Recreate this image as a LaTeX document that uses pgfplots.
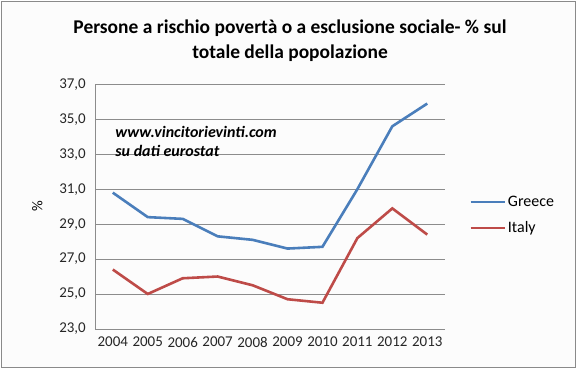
\documentclass[border=1pt]{standalone}
\usepackage{pgfplots}
\pgfplotsset{compat=1.18}
\usepackage{fontspec}
\setmainfont{Carlito}
\definecolor{gr}{HTML}{4A7EBB}
\definecolor{it}{HTML}{BE4B48}
\definecolor{gridc}{HTML}{8C8C8C}
\definecolor{frame}{HTML}{8A8A8A}
\pgfplotstableread{
x Greece Italy
0 30.8 26.4
1 29.4 25.0
2 29.3 25.9
3 28.3 26.0
4 28.1 25.5
5 27.6 24.7
6 27.7 24.5
7 31.0 28.2
8 34.6 29.9
9 35.9 28.4
}\data
\begin{document}
\begin{tikzpicture}
\fill[white!98!gray] (-94pt,-39pt) rectangle (481pt,328pt);
\draw[frame, line width=1pt] (-94pt,-39pt) rectangle (481pt,328pt);
\node[align=center, font=\fontsize{19.5}{25}\selectfont\bfseries] at (195pt,289pt) {Persone a rischio povertà o a esclusione sociale- \% sul\\totale della popolazione};
\begin{axis}[
  at={(0,0)}, anchor=south west,
  scale only axis, width=350pt, height=245pt,
  xmin=-0.5, xmax=9.5, ymin=23, ymax=37,
  xtick=data, xticklabels={2004,2005,2006,2007,2008,2009,2010,2011,2012,2013},
  ytick={23,25,...,37},
  /pgf/number format/.cd, fixed, fixed zerofill, precision=1, use comma, assume math mode=true,
  /pgfplots/.cd,
  axis lines*=left,
  axis line style={gridc, line width=0.8pt},
  major tick length=0pt,
  ymajorgrids, grid style={gridc, line width=0.8pt},
  ticklabel style={font=\fontsize{15}{17}\selectfont, text=black!85},
  yticklabel style={xshift=-6pt},
  xticklabel style={yshift=-8pt, inner sep=0pt},
  ylabel={\%}, ylabel style={font=\fontsize{15}{17}\selectfont, yshift=10pt},
  legend style={draw=none, fill=none, at={(1.07,0.465)}, anchor=west, font=\fontsize{16}{18}\selectfont, row sep=10pt, inner sep=0pt},
  legend cell align=left,
  legend image code/.code={\draw[#1, line width=2.6pt] (0,0) -- (34pt,0);},
  clip=false,
]
\addplot[gr, line width=2.6pt] table[x=x, y=Greece] {\data};
\addlegendentry{Greece}
\addplot[it, line width=2.6pt] table[x=x, y=Italy] {\data};
\addlegendentry{Italy}
\node[anchor=north west, align=left, font=\fontsize{16}{19}\selectfont\bfseries\itshape, inner sep=0pt] at (rel axis cs:0.057,0.83) {www.vincitorievinti.com\\su dati eurostat};
\end{axis}
\end{tikzpicture}
\end{document}
